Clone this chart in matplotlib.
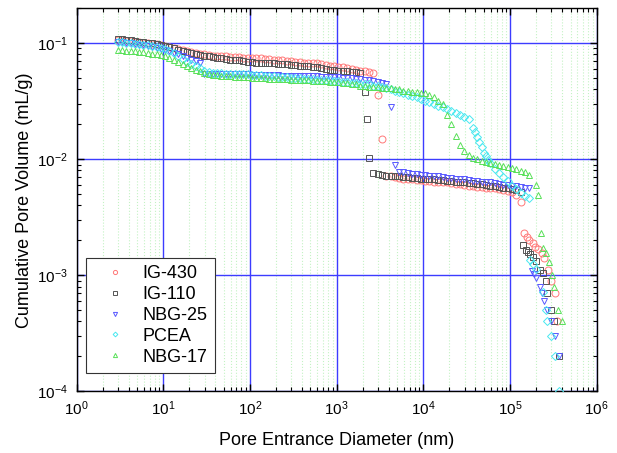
import numpy as np
import matplotlib
matplotlib.use("Agg")
import matplotlib.pyplot as plt
from matplotlib.ticker import LogLocator, NullFormatter

plt.rcParams['font.family'] = ['Liberation Sans', 'DejaVu Sans']
plt.rcParams['mathtext.fontset'] = 'custom'
plt.rcParams['mathtext.rm'] = 'Liberation Sans'
plt.rcParams['mathtext.it'] = 'Liberation Sans:italic'

nan = np.nan

# pore entrance diameter (nm), pressure steps shared by all samples
diam = [3.0, 3.35, 3.76, 4.2, 4.7, 5.3, 5.9, 6.7, 7.5, 8.4, 9.4,
        10.5, 11.8, 13.3, 14.9, 16.7, 18.8, 21, 23.7, 26.6, 29.8, 33.5, 37.6, 42, 47, 53, 59, 67, 75, 84, 94,
        105, 118, 133, 149, 167, 188, 210, 237, 266, 298, 335, 376, 420, 470, 530, 590, 670, 750, 840, 940,
        1050, 1180, 1330, 1490, 1670, 1880, 2100, 2370, 2660, 2980, 3350, 3760, 4200, 4700, 5300, 5900, 6700, 7500, 8400, 9400,
        10500, 11800, 13300, 14900, 16700, 18800, 21000, 23700, 26600, 29800, 33500, 37600, 42000, 47000, 53000, 59000, 67000, 75000, 84000, 94000,
        105000, 118000, 133000, 149000, 167000]

# cumulative pore volume (mL/g)
ig430 = [.107, .106, .105, .104, .103, .102, .101, .100, .099, .098, .097,
         .095, .093, .091, .089, .087, .085, .083, .082, .081, .080, .079, .078, .078, .077, .077, .076, .076, .076, .075, .075,
         .075, .074, .074, .073, .073, .072, .072, .071, .070, .070, .069, .069, .068, .068, .067, .067, .066, .065, .064, .063,
         .062, .062, .061, .060, .059, .058, .057, .056, .055, .036, .015, .0072, .0071, .0070, .0069, .0068, .0067, .0067, .0066, .0066,
         .0065, .0065, .0064, .0064, .0063, .0063, .0062, .0061, .0061, .0060, .0059, .0059, .0058, .0058, .0057, .0056, .0056, .0055, .0054, .0053,
         .0052, .0049, .0043, nan, nan]
ig110 = [.109, .108, .107, .106, .104, .103, .102, .101, .100, .099, .097,
         .095, .093, .090, .088, .086, .084, .082, .080, .079, .078, .077, .076, .075, .074, .073, .072, .071, .071, .070, .069,
         .069, .068, .068, .067, .067, .067, .066, .066, .066, .065, .065, .064, .064, .063, .062, .062, .061, .060, .059, .059,
         .058, .058, .057, .056, .056, .055, .038, .0103, .0076, .0074, .0073, .0072, .0072, .0071, .0071, .0070, .0070, .0069, .0069, .0068,
         .0068, .0067, .0067, .0066, .0066, .0065, .0065, .0064, .0063, .0063, .0062, .0062, .0061, .0061, .0060, .0059, .0059, .0058, .0057, .0056,
         .0055, .0054, .0052, nan, nan]
nbg25 = [.103, .102, .101, .100, .099, .097, .096, .094, .092, .091, .089,
         .087, .085, .082, .080, .077, .074, .072, .070, .067, .054, .054, .054, .054, .054, .054, .054, .054, .054, .054, .054,
         .0535, .0535, .053, .053, .053, .053, .053, .052, .052, .052, .052, .052, .052, .052, .052, .052, .051, .051, .051, .051,
         .051, .050, .050, .050, .049, .049, .048, .048, .047, .046, .045, .044, .028, .0089, .0078, .0077, .0076, .0075, .0074, .0073,
         .0073, .0072, .0071, .0071, .0070, .0069, .0069, .0068, .0067, .0067, .0066, .0065, .0065, .0064, .0063, .0063, .0062, .0061, .0060, .0060,
         .0059, .0059, .0058, .0057, .0056]
pcea = [.103, .102, .101, .100, .099, .098, .097, .096, .094, .093, .091,
        .089, .086, .082, .078, .073, .069, .066, .063, .061, .058, .056, .055, .055, .055, .054, .054, .054, .054, .054, .054,
        .053, .053, .053, .052, .052, .052, .051, .051, .051, .050, .050, .050, .049, .049, .049, .048, .048, .048, .048, .047,
        .047, .046, .046, .045, .045, .044, .044, .044, .043, .043, .042, .041, .040, .039, .038, .037, .036, .035, .034, .033,
        .032, .031, .030, .029, .028, .027, .026, .025, .024, .023, .022, .0185, .0155, .0127, .0106, .0092, .0082, .0076, .0070, .0065,
        .0059, .0055, .0051, .0048, .0046]
nbg17 = [.087, .087, .086, .086, .085, .084, .083, .082, .081, .080, .079,
         .077, .075, .072, .069, .066, .063, .061, .059, .057, .055, .054, .053, .053, .052, .052, .052, .051, .051, .051, .051,
         .050, .050, .050, .050, .049, .049, .049, .049, .049, .048, .048, .048, .048, .048, .047, .047, .047, .047, .046, .046,
         .046, .045, .045, .044, .044, .043, .043, .042, .042, .042, .041, .041, .041, .040, .040, .039, .039, .038, .038, .037,
         .037, .036, .034, .032, .030, .024, .020, .016, .0133, .0117, .0109, .0103, .0100, .0097, .0095, .0093, .0091, .0089, .0087, .0085,
         .0084, .0082, .0079, .0077, .0073]

# extra points off the shared steps (steep drops and the large-pore tails)
ig430_x = [145000, 156000, 167000, 183000, 194000, 212000, 232000, 247000, 277000, 298000, 331000, 350000]
ig430_y = [.0023, .00213, .00201, .00189, .00177, .00168, .00155, .0014, .0011, .0009, .0007, .0004]
ig110_x = [2220, 143000, 153000, 162000, 172000, 183000, 200000, 220000, 240000, 260000, 270000, 296000, 320000, 370000]
ig110_y = [.022, .00182, .00166, .00159, .00152, .00145, .00134, .0011, .00104, .0009, .00071, .0005, .0004, .0002]
nbg25_x = [178000, 190000, 200000, 220000, 235000, 250000, 270000, 300000, 330000, 370000]
nbg25_y = [.00109, .00102, .00094, .0008, .0007, .0006, .0005, .0004, .0003, .0002]
pcea_x = [40000, 44500, 50800, 56000, 170000, 185000, 200000, 239000, 260000, 270000, 295000, 330000, 370000]
pcea_y = [.0170, .0140, .0113, .0099, .00136, .00124, .00113, .00072, .0005, .0004, .0003, .0002, .0001]
nbg17_x = [200000, 212000, 226000, 239000, 258000, 281000, 303000, 323000, 355000, 397000]
nbg17_y = [.0060, .0049, .0023, .00171, .00155, .00131, .00101, .00079, .0005, .0004]

series = [
    ("IG-430", ig430, ig430_x, ig430_y, "o", "#ff7878"),
    ("IG-110", ig110, ig110_x, ig110_y, "s", "#555555"),
    ("NBG-25", nbg25, nbg25_x, nbg25_y, "v", "#5858ff"),
    ("PCEA", pcea, pcea_x, pcea_y, "D", "#48e8f0"),
    ("NBG-17", nbg17, nbg17_x, nbg17_y, "^", "#58e058"),
]

fig = plt.figure(figsize=(6.17, 4.53), dpi=100)
ax = fig.add_axes([0.124, 0.136, 0.843, 0.846])

for name, vol, ex, ey, mk, col in series:
    xs = np.concatenate([np.array(diam, float), np.array(ex, float)])
    ys = np.concatenate([np.array(vol, float), np.array(ey, float)])
    ms = 4.0 if mk == "D" else 5.0
    ax.plot(xs, ys, linestyle="none", marker=mk, markersize=ms,
            markerfacecolor="none", markeredgecolor=col, markeredgewidth=0.7,
            label=name, zorder=3)

ax.set_xscale("log")
ax.set_yscale("log")
ax.set_xlim(1, 1e6)
ax.set_ylim(1e-4, 0.2)

ax.xaxis.set_major_locator(LogLocator(base=10, numticks=10))
ax.xaxis.set_minor_locator(LogLocator(base=10, subs=np.arange(2, 10), numticks=20))
ax.yaxis.set_major_locator(LogLocator(base=10, numticks=10))
ax.yaxis.set_minor_locator(LogLocator(base=10, subs=np.arange(2, 10), numticks=20))
ax.xaxis.set_minor_formatter(NullFormatter())
ax.yaxis.set_minor_formatter(NullFormatter())

ax.grid(True, which="major", color="#3c3cff", linewidth=1.0, zorder=1)
ax.xaxis.grid(True, which="minor", color="#c4f2c4", linestyle=":", linewidth=0.8)
ax.set_axisbelow(True)

ax.tick_params(which="both", direction="in", top=True, right=True, labelsize=11, pad=6)
ax.tick_params(which="major", length=5, width=1)
ax.tick_params(which="minor", length=3, width=0.8)
for sp in ax.spines.values():
    sp.set_linewidth(1.0)

ax.set_xlabel("Pore Entrance Diameter (nm)", fontsize=13, labelpad=10)
ax.set_ylabel("Cumulative Pore Volume (mL/g)", fontsize=13, labelpad=3)

leg = ax.legend(loc="lower left", bbox_to_anchor=(0.018, 0.048), fontsize=13,
                markerscale=0.6, handletextpad=0.35, handlelength=2.4,
                labelspacing=0.22, borderpad=0.4, fancybox=False, framealpha=1,
                edgecolor="#333333", borderaxespad=0)
leg.get_frame().set_linewidth(0.8)

fig.savefig("out.png", dpi=100)
